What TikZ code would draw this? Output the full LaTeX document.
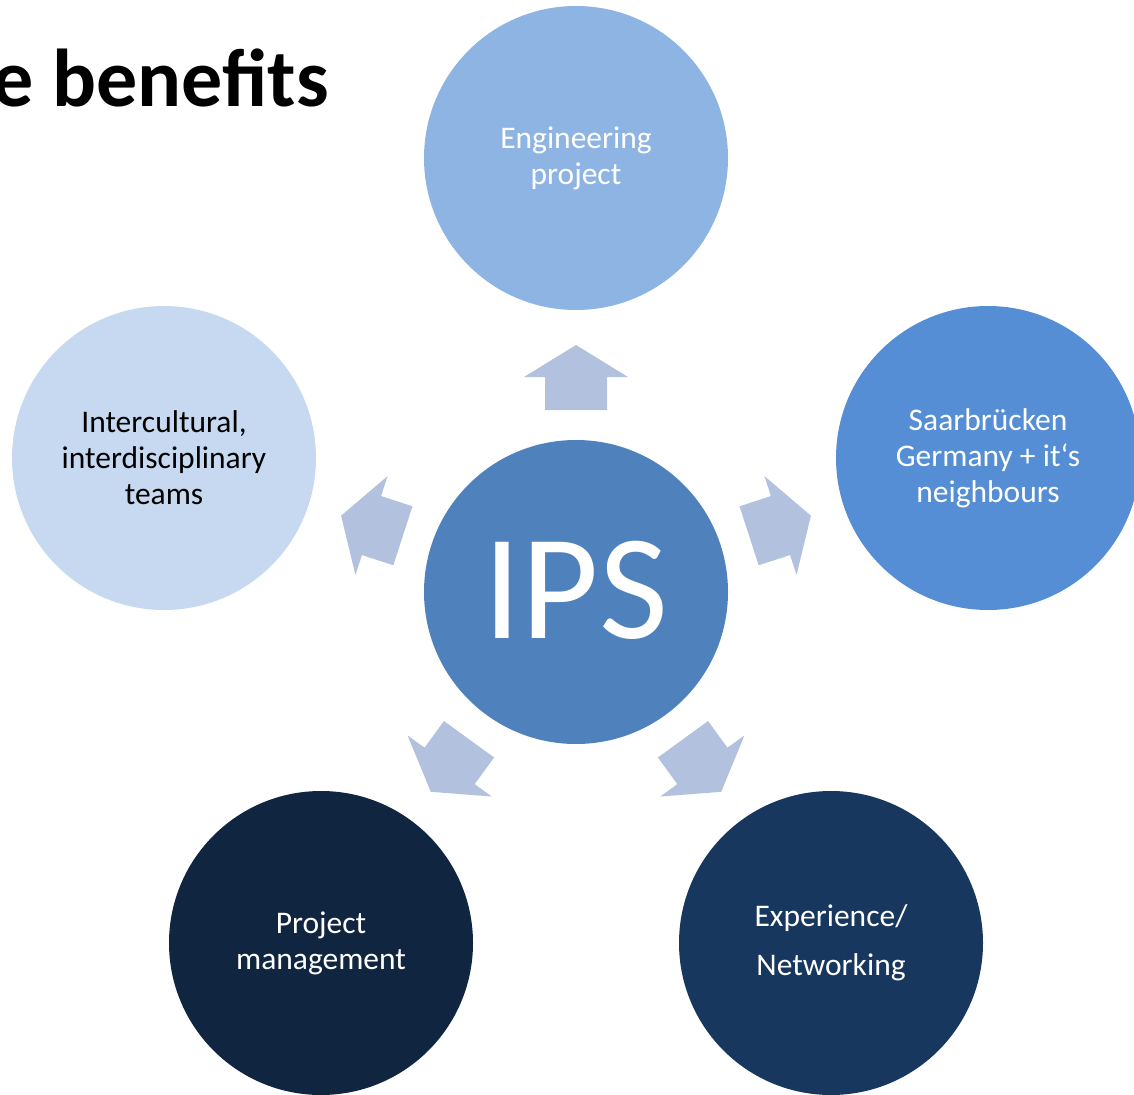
\documentclass[tikz,border=0pt]{standalone}
\usepackage{fontspec}
\setmainfont{Carlito}
\definecolor{cIPS}{HTML}{4F81BD}
\definecolor{cTop}{HTML}{8EB4E3}
\definecolor{cRight}{HTML}{558ED5}
\definecolor{cLeft}{HTML}{C6D9F1}
\definecolor{cBL}{HTML}{10253F}
\definecolor{cBR}{HTML}{17375E}
\definecolor{cArrow}{HTML}{B2C2DE}
\newcommand{\bubtext}[1]{\raisebox{-3pt}{\parbox{210pt}{\centering #1}}}
\tikzset{
  bubble/.style={circle, minimum size=304pt, inner sep=0pt, draw=none, align=center,
    font=\fontsize{31.5}{36}\selectfont, text=white},
  blockarrow/.style={fill=cArrow, draw=none},
}
\begin{document}
\begin{tikzpicture}[x=1pt,y=1pt]
\useasboundingbox (0,0) rectangle (1134,-1094);
\node[anchor=base east, font=\fontsize{82}{90}\selectfont\bfseries, inner sep=0pt] (title) at (329,-107) {e benefits};
\node[bubble, fill=cIPS, font=\fontsize{150}{160}\selectfont] (ips) at (576,-592) {\raisebox{5pt}{IPS}};
\node[bubble, fill=cTop] (top) at (576,-158) {\bubtext{Engineering\\project}};
\node[bubble, fill=cRight] (right) at (988,-458) {\bubtext{Saarbrücken\\Germany + it‘s\\neighbours}};
\node[bubble, fill=cLeft, text=black] (left) at (164,-458) {\bubtext{Intercultural,\\interdisciplinary\\teams}};
\node[bubble, fill=cBL] (bl) at (321,-943) {\bubtext{Project\\management}};
\node[bubble, fill=cBR] (br) at (831,-943) {\bubtext{Experience/\\[13pt]Networking}};
\foreach \a in {0,72,144,-72,-144}{
  \begin{scope}[shift={(ips.center)}, rotate=\a]
    \fill[blockarrow] (0,247) -- (52,215) -- (31,215) -- (31,182) -- (-31,182) -- (-31,215) -- (-52,215) -- cycle;
  \end{scope}
}
\end{tikzpicture}
\end{document}
